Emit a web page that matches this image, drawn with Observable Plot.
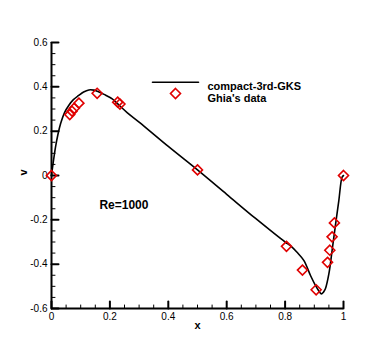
<!DOCTYPE html>
<html>
<head>
<meta charset="utf-8">
<script src="https://cdn.jsdelivr.net/npm/d3@7"></script>
<script src="https://cdn.jsdelivr.net/npm/@observablehq/plot@0.6"></script>
<style>
  html, body { margin: 0; padding: 0; background: #fff; }
  #chart { width: 390px; height: 347px; }
</style>
</head>
<body>
<div id="chart"></div>
<script>
// Computed curve: compact-3rd-GKS (x, v)
const curveX = [0, 0.005, 0.0137, 0.022, 0.031, 0.045, 0.059, 0.075, 0.093, 0.11, 0.128, 0.145, 0.157, 0.18, 0.208, 0.225, 0.259, 0.3, 0.4, 0.5, 0.6, 0.7, 0.8, 0.818, 0.84, 0.864, 0.887, 0.904, 0.915, 0.924, 0.932, 0.938, 0.95, 0.961, 0.973, 0.984, 0.995, 1.0];
const curveV = [0, 0.05, 0.128, 0.185, 0.233, 0.285, 0.316, 0.342, 0.361, 0.377, 0.386, 0.385, 0.380, 0.366, 0.346, 0.325, 0.284, 0.241, 0.131, 0.025, -0.085, -0.195, -0.300, -0.316, -0.345, -0.383, -0.451, -0.496, -0.520, -0.534, -0.525, -0.511, -0.443, -0.338, -0.218, -0.113, -0.008, 0.0];

// Ghia's data (Re=1000)
const ghiaX = [1.0000, 0.9688, 0.9609, 0.9531, 0.9453, 0.9063, 0.8594, 0.8047, 0.5000, 0.2344, 0.2266, 0.1563, 0.0938, 0.0781, 0.0703, 0.0625, 0.0000];
const ghiaV = [0.00000, -0.21388, -0.27669, -0.33714, -0.39188, -0.51550, -0.42665, -0.31966, 0.02526, 0.32235, 0.33075, 0.37095, 0.32627, 0.30353, 0.29012, 0.27485, 0.00000];

// Axes
const xDomain = [0, 1];
const yDomain = [-0.6, 0.6];
const xMajor = [0, 0.2, 0.4, 0.6, 0.8, 1];
const xMinor = [0.05, 0.1, 0.15, 0.25, 0.3, 0.35, 0.45, 0.5, 0.55, 0.65, 0.7, 0.75, 0.85, 0.9, 0.95];
const yMajor = [-0.6, -0.4, -0.2, 0, 0.2, 0.4, 0.6];
const yMinor = [-0.55, -0.5, -0.45, -0.35, -0.3, -0.25, -0.15, -0.1, -0.05, 0.05, 0.1, 0.15, 0.25, 0.3, 0.35, 0.45, 0.5, 0.55];

// Texts
const seriesNames = ["compact-3rd-GKS", "Ghia's data"];
const annotation = [{x: 0.164, v: -0.132, text: "Re=1000"}];
const xLabel = "x";
const yLabel = "v";

const curve = curveX.map((x, i) => ({x, v: curveV[i]}));
const ghia = ghiaX.map((x, i) => ({x, v: ghiaV[i]}));

const tickShape = { draw(context, l) { context.moveTo(0, 0); context.lineTo(0, -l); } };
const font = "'Liberation Sans', Arial, sans-serif";

const chart = Plot.plot({
  width: 390,
  height: 347,
  marginLeft: 51,
  marginRight: 47,
  marginTop: 42,
  marginBottom: 39,
  x: {domain: xDomain},
  y: {domain: yDomain},
  style: {fontFamily: font, fontSize: "10px", color: "#000", background: "#fff"},
  marks: [
    Plot.axisY({ticks: yMajor, tickSize: 0, tickPadding: 4, tickFormat: d => String(d), label: null, fontSize: 10}),
    Plot.axisX({ticks: xMajor, tickSize: 0, tickPadding: 4, tickFormat: d => String(d), label: null, fontSize: 10}),
    Plot.vector(xMajor, {x: d => d, y: yDomain[0], length: 7, rotate: 0, anchor: "start", shape: tickShape, stroke: "#000", strokeWidth: 2}),
    Plot.vector(xMinor, {x: d => d, y: yDomain[0], length: 3.5, rotate: 0, anchor: "start", shape: tickShape, stroke: "#000", strokeWidth: 1}),
    Plot.vector(yMajor, {x: xDomain[0], y: d => d, length: 7, rotate: 90, anchor: "start", shape: tickShape, stroke: "#000", strokeWidth: 2}),
    Plot.vector(yMinor, {x: xDomain[0], y: d => d, length: 3.5, rotate: 90, anchor: "start", shape: tickShape, stroke: "#000", strokeWidth: 1}),
    Plot.ruleX([xDomain[0]], {stroke: "#000", strokeWidth: 2}),
    Plot.ruleY([yDomain[0]], {stroke: "#000", strokeWidth: 2}),
    Plot.line(curve, {x: "x", y: "v", stroke: "#000", strokeWidth: 1.6, curve: "catmull-rom"}),
    Plot.dot(ghia, {x: "x", y: "v", symbol: "diamond2", r: 4.5, stroke: "#e00000", strokeWidth: 1.6, fill: "none"}),
    Plot.text(annotation, {x: "x", y: "v", text: "text", textAnchor: "start", fontSize: 12, fontWeight: "bold"}),
    Plot.text([xLabel], {frameAnchor: "bottom", dy: 20, fontSize: 11, fontWeight: "bold"}),
    Plot.text([yLabel], {frameAnchor: "left", dx: -28, rotate: -90, fontSize: 11, fontWeight: "bold"}),
    // legend
    Plot.vector([0], {frameAnchor: "top-left", dx: 101, dy: 39.7, length: 46, rotate: 90, anchor: "start", shape: tickShape, stroke: "#000", strokeWidth: 1.6}),
    Plot.dot([0], {frameAnchor: "top-left", dx: 124, dy: 51, symbol: "diamond2", r: 4.5, stroke: "#e00000", strokeWidth: 1.6, fill: "none"}),
    Plot.text([seriesNames[0]], {frameAnchor: "top-left", dx: 156, dy: 39.5, textAnchor: "start", fontSize: 11, fontWeight: "bold"}),
    Plot.text([seriesNames[1]], {frameAnchor: "top-left", dx: 156, dy: 51.5, textAnchor: "start", fontSize: 11, fontWeight: "bold"})
  ]
});
document.getElementById("chart").appendChild(chart);
</script>
</body>
</html>
